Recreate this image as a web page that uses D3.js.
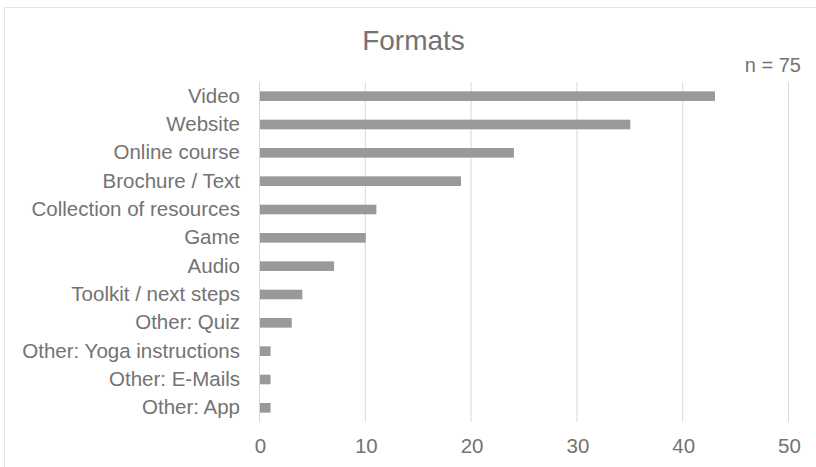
<!DOCTYPE html>
<html>
<head>
<meta charset="utf-8">
<script src="https://cdn.jsdelivr.net/npm/d3@7"></script>
<style>
  body { margin: 0; background: #fff; }
  svg { display: block; font-family: 'Liberation Sans', Arial, sans-serif; }
</style>
</head>
<body>
<svg id="chart"></svg>
<script>
const categories = [
  'Video',
  'Website',
  'Online course',
  'Brochure / Text',
  'Collection of resources',
  'Game',
  'Audio',
  'Toolkit / next steps',
  'Other: Quiz',
  'Other: Yoga instructions',
  'Other: E-Mails',
  'Other: App',
];
const counts = [43, 35, 24, 19, 11, 10, 7, 4, 3, 1, 1, 1];
const xTicks = [0, 10, 20, 30, 40, 50];
const title = 'Formats';
const note = 'n = 75';

const width = 816;
const height = 467;
const margin = { top: 82, right: 27, bottom: 45, left: 260 };
const textColor = '#737373';
const fontSize = '20.5px';

const svg = d3.select('#chart').attr('width', width).attr('height', height);

// outer chart frame (runs off the right and bottom edges)
svg.append('rect')
  .attr('x', 4.5).attr('y', 7.5)
  .attr('width', width + 10).attr('height', height + 10)
  .attr('fill', 'none').attr('stroke', '#e3e3e3');

const x = d3.scaleLinear().domain([0, 50]).range([margin.left, width - margin.right]);
const y = d3.scaleBand()
  .domain(categories)
  .range([margin.top, height - margin.bottom])
  .paddingInner(0.66)
  .paddingOuter(0.33);

// vertical grid
svg.append('g')
  .selectAll('line')
  .data(xTicks)
  .join('line')
  .attr('x1', d => x(d) - 0.5).attr('x2', d => x(d) - 0.5)
  .attr('y1', margin.top).attr('y2', height - margin.bottom)
  .attr('stroke', '#d9d9d9').attr('stroke-width', 1);

// bars
svg.append('g')
  .selectAll('rect')
  .data(categories)
  .join('rect')
  .attr('x', x(0))
  .attr('y', d => y(d))
  .attr('width', (d, i) => x(counts[i]) - x(0))
  .attr('height', y.bandwidth())
  .attr('fill', '#999999');

// category labels
const yAxis = d3.axisLeft(y).tickSize(0).tickPadding(0);
svg.append('g')
  .attr('transform', `translate(${margin.left - 20},0)`)
  .call(yAxis)
  .call(g => g.select('.domain').remove())
  .selectAll('text')
  .attr('fill', textColor)
  .style('font-size', fontSize)
  .style('font-family', "'Liberation Sans', Arial, sans-serif");

// x tick labels
const xAxis = d3.axisBottom(x).tickValues(xTicks).tickSize(0).tickPadding(0);
svg.append('g')
  .attr('transform', `translate(0,${height - margin.bottom + 16})`)
  .call(xAxis)
  .call(g => g.select('.domain').remove())
  .selectAll('text')
  .attr('fill', textColor)
  .style('font-size', fontSize)
  .style('font-family', "'Liberation Sans', Arial, sans-serif");

svg.append('text')
  .attr('x', 413.5).attr('y', 49.5)
  .attr('text-anchor', 'middle')
  .attr('fill', textColor)
  .style('font-size', '28px')
  .text(title);

svg.append('text')
  .attr('x', 801).attr('y', 71.5)
  .attr('text-anchor', 'end')
  .attr('fill', textColor)
  .style('font-size', '20px')
  .text(note);
</script>
</body>
</html>
